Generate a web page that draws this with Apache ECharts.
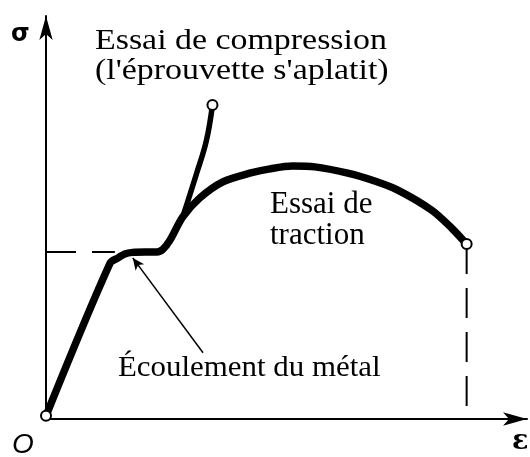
<!DOCTYPE html>
<html>
<head>
<meta charset="utf-8">
<script src="https://cdn.jsdelivr.net/npm/echarts@6/dist/echarts.min.js"></script>
<style>
  html, body { margin: 0; padding: 0; background: #fff; }
  #chart { width: 530px; height: 457px; }
</style>
</head>
<body>
<div id="chart"></div>
<script>
// Traction test curve (strain, stress), arbitrary units
const tractionStrain = [0, 13.6, 15.3, 16.7, 18.4, 21.0, 23.5, 24.8, 26.3, 29.0, 32.6, 37.5, 43.2, 47.5, 52.3, 57.0, 64.0, 69.7, 74.6, 81.8, 86.0, 89.2];
const tractionStress = [0.8, 39.6, 40.9, 41.9, 42.3, 42.4, 42.4, 43.1, 45.4, 51.3, 56.1, 60.2, 62.4, 63.5, 64.2, 64.0, 62.4, 60.4, 58.1, 53.0, 48.5, 44.4];

// Compression branch, leaves the traction curve after the plateau
const compressionStrain = [29.0, 31.9, 34.0, 35.3];
const compressionStress = [51.3, 62.2, 70.6, 79.7];

// Yield plateau level and rupture strain (dashed guides)
const yieldStress = 42.4;
const yieldStrainEnd = 14.6;
const ruptureStrain = 89.2;
const ruptureStress = 44.4;

// Arrow pointing at the plateau
const arrowFrom = [33.3, 16.8];
const arrowTo = [18.4, 40.9];

const labels = {
    sigma: 'σ',
    eps: 'ε',
    origin: 'O',
    compression: 'Essai de compression\n(l\'éprouvette s\'aplatit)',
    traction: 'Essai de\ntraction',
    flow: 'Écoulement du métal'
};

const zip = (xs, ys) => xs.map((x, i) => [x, ys[i]]);

const chart = echarts.init(document.getElementById('chart'), null, { renderer: 'canvas' });

const serif = '"Liberation Serif", "Times New Roman", serif';

const option = {
    animation: false,
    grid: { left: 46, right: 3, top: 16, bottom: 38 },
    xAxis: {
        type: 'value',
        min: 0,
        max: 102,
        axisLine: {
            show: true,
            symbol: ['none', 'arrow'],
            symbolSize: [10, 24],
            lineStyle: { color: '#000', width: 2 }
        },
        axisTick: { show: false },
        axisLabel: { show: false },
        splitLine: { show: false }
    },
    yAxis: {
        type: 'value',
        min: 0,
        max: 102.3,
        axisLine: {
            show: true,
            symbol: ['none', 'arrow'],
            symbolSize: [10, 24],
            lineStyle: { color: '#000', width: 2 }
        },
        axisTick: { show: false },
        axisLabel: { show: false },
        splitLine: { show: false }
    },
    series: [
        {
            // dashed guides
            type: 'line',
            data: [[0, yieldStress], [yieldStrainEnd, yieldStress]],
            showSymbol: false,
            lineStyle: { color: '#000', width: 2, type: [30, 16] },
            z: 2
        },
        {
            type: 'line',
            data: [[ruptureStrain, ruptureStress], [ruptureStrain, 0]],
            showSymbol: false,
            lineStyle: { color: '#000', width: 2, type: [30, 14] },
            z: 2
        },
        {
            name: 'traction',
            type: 'line',
            data: zip(tractionStrain, tractionStress),
            smooth: 0.3,
            showSymbol: false,
            lineStyle: { color: '#000', width: 7.5, cap: 'round', join: 'round' },
            z: 3
        },
        {
            name: 'compression',
            type: 'line',
            data: zip(compressionStrain, compressionStress),
            smooth: 0.4,
            showSymbol: false,
            lineStyle: { color: '#000', width: 5.5, cap: 'round', join: 'round' },
            z: 3,
            markLine: {
                silent: true,
                symbol: ['none', 'arrow'],
                symbolSize: [8, 12],
                label: { show: false },
                lineStyle: { color: '#000', width: 1.5, type: 'solid' },
                data: [[{ coord: arrowFrom }, { coord: arrowTo }]]
            }
        },
        {
            // open end markers
            type: 'scatter',
            data: [
                [tractionStrain[0], tractionStress[0]],
                [compressionStrain[compressionStrain.length - 1], compressionStress[compressionStress.length - 1]],
                [tractionStrain[tractionStrain.length - 1], tractionStress[tractionStress.length - 1]]
            ],
            symbol: 'circle',
            symbolSize: 10,
            itemStyle: { color: '#fff', opacity: 1, borderColor: '#000', borderWidth: 2 },
            z: 5
        }
    ],
    graphic: [
        {
            type: 'text', left: 11, top: 23,
            style: { text: labels.sigma, font: 'bold 24px "DejaVu Sans"', fill: '#000' }
        },
        {
            type: 'text', x: 95, y: 26, scaleX: 1.13,
            style: { text: labels.compression, font: '30px ' + serif, lineHeight: 30, fill: '#000' }
        },
        {
            type: 'text', left: 270, top: 189,
            style: { text: labels.traction, font: '31px ' + serif, lineHeight: 31, fill: '#000' }
        },
        {
            type: 'text', x: 118, y: 353, scaleX: 1.03,
            style: { text: labels.flow, font: '30px ' + serif, lineHeight: 30, fill: '#000' }
        },
        {
            type: 'text', left: 12, top: 431,
            style: { text: labels.origin, font: 'italic 28px "Liberation Sans"', fill: '#000' }
        },
        {
            type: 'text', left: 512, top: 428,
            style: { text: labels.eps, font: 'bold 27px "DejaVu Serif"', fill: '#000' }
        }
    ]
};

chart.setOption(option);
</script>
</body>
</html>
